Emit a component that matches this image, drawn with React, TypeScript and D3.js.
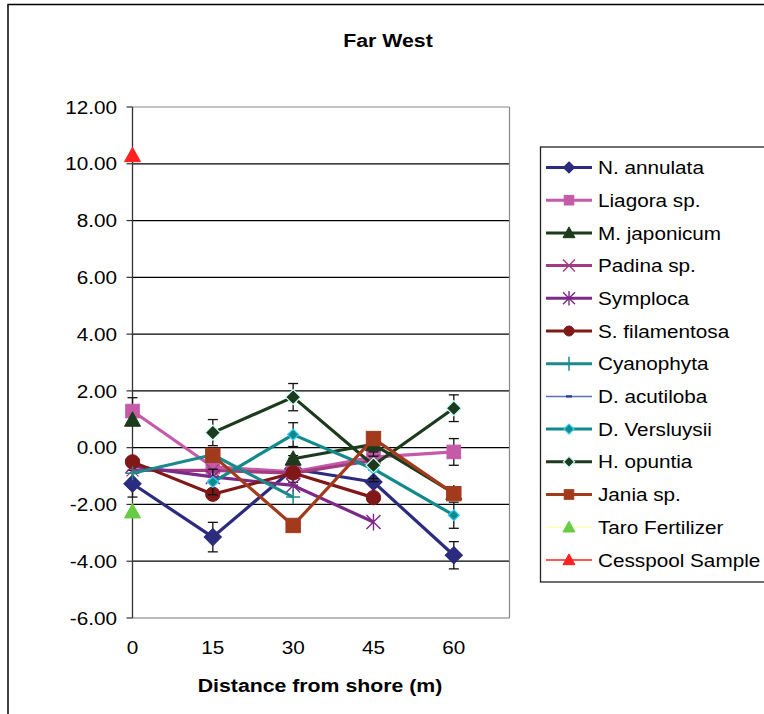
import React from 'react';
import * as d3 from 'd3';

// ---------- data ----------
const distances = [0, 15, 30, 45, 60];
const yTicks = [12, 10, 8, 6, 4, 2, 0, -2, -4, -6];
const chartTitle = 'Far West';
const xTitle = 'Distance from shore (m)';

const seriesNames = [
  'N. annulata', 'Liagora sp.', 'M. japonicum', 'Padina sp.', 'Symploca',
  'S. filamentosa', 'Cyanophyta', 'D. acutiloba', 'D. Versluysii', 'H. opuntia',
  'Jania sp.', 'Taro Fertilizer', 'Cesspool Sample',
];

const nAnnulata = [-1.27, -3.15, -0.75, -1.21, -3.79];
const liagora = [1.29, -0.68, -0.85, -0.33, -0.15];
const mJaponicum = [0.98, null, -0.39, 0.12, -1.6];
const padina = [-0.8, -0.8, -0.9, -0.45, null];
const symploca = [-0.65, -1.03, -1.33, -2.62, null];
const sFilamentosa = [-0.5, -1.64, -0.89, -1.76, null];
const cyanophyta = [-0.9, -0.25, -1.74, null, null];
const dAcutiloba = [null, null, null, null, null];
const dVersluysii = [null, -1.21, 0.46, -0.75, -2.38];
const hOpuntia = [null, 0.53, 1.78, -0.62, 1.39];
const jania = [null, -0.27, -2.74, 0.32, -1.62];
const taroFertilizer = [-2.25, null, null, null, null];
const cesspool = [10.3, null, null, null, null];

const nAnnulataErr = [0.47, 0.52, 0.47, 0.47, 0.48];
const liagoraErr = [0.47, 0.47, 0.47, 0.47, 0.47];
const dVersluysiiErr = [0.45, 0.45, 0.42, 0.45, 0.46];
const hOpuntiaErr = [0.47, 0.46, 0.48, 0.47, 0.47];

type V = number | null;
interface S {
  name: string; values: V[]; err?: number[];
  color: string; width: number; marker: string; mFill: string; mStroke: string;
  mSize: number; lSize: number;
}

const series: S[] = [
  { name: seriesNames[0], values: nAnnulata, err: nAnnulataErr, color: '#2c2c7e', width: 3.2, marker: 'diamond', mFill: '#2c2c7e', mStroke: '#2c2c7e', mSize: 8.5, lSize: 5.5 },
  { name: seriesNames[1], values: liagora, err: liagoraErr, color: '#c55aa9', width: 3.2, marker: 'square', mFill: '#c55aa9', mStroke: '#c55aa9', mSize: 6.8, lSize: 4.8 },
  { name: seriesNames[2], values: mJaponicum, color: '#1c3a1c', width: 3.2, marker: 'triangle', mFill: '#1c3a1c', mStroke: '#1c3a1c', mSize: 8, lSize: 6 },
  { name: seriesNames[3], values: padina, color: '#a23c82', width: 3.2, marker: 'x', mFill: 'none', mStroke: '#a23c82', mSize: 6, lSize: 6 },
  { name: seriesNames[4], values: symploca, color: '#7c2a88', width: 3.2, marker: 'star', mFill: 'none', mStroke: '#7c2a88', mSize: 7, lSize: 6 },
  { name: seriesNames[5], values: sFilamentosa, color: '#801818', width: 3.2, marker: 'circle', mFill: '#801818', mStroke: '#801818', mSize: 7.2, lSize: 5 },
  { name: seriesNames[6], values: cyanophyta, color: '#1a8a8a', width: 3.2, marker: 'plus', mFill: 'none', mStroke: '#1a8a8a', mSize: 7, lSize: 7 },
  { name: seriesNames[7], values: dAcutiloba, color: '#5a70c0', width: 1.5, marker: 'dash', mFill: '#3040a0', mStroke: '#3040a0', mSize: 3, lSize: 3 },
  { name: seriesNames[8], values: dVersluysii, err: dVersluysiiErr, color: '#128a8a', width: 3.2, marker: 'diamond', mFill: '#128a8a', mStroke: '#33ccff', mSize: 5.5, lSize: 5 },
  { name: seriesNames[9], values: hOpuntia, err: hOpuntiaErr, color: '#1c3a1c', width: 3.2, marker: 'diamond', mFill: '#1c3a1c', mStroke: '#ccffff', mSize: 7.5, lSize: 5.5 },
  { name: seriesNames[10], values: jania, color: '#a23a1c', width: 3.2, marker: 'square', mFill: '#a23a1c', mStroke: '#a23a1c', mSize: 7.2, lSize: 4.8 },
  { name: seriesNames[11], values: taroFertilizer, color: '#ffffb8', width: 1.5, marker: 'triangle', mFill: '#66cc44', mStroke: '#66cc44', mSize: 8, lSize: 6 },
  { name: seriesNames[12], values: cesspool, color: '#ff2020', width: 1.5, marker: 'triangle', mFill: '#ff2020', mStroke: '#ff2020', mSize: 8, lSize: 6 },
];

// ---------- layout ----------
const W = 764, H = 714;
const PL = 132.5, PR = 509.5, PT = 107, PB = 618;
const SX = 1.12;
const FONT = '"Liberation Sans", Arial, sans-serif';

const x = d3.scaleLinear().domain([0, 70.4]).range([PL, PR]);
const y = d3.scaleLinear().domain([-6, 12]).range([PB, PT]);

function Marker({ type, cx, cy, s, fill, stroke }: { type: string; cx: number; cy: number; s: number; fill: string; stroke: string }) {
  switch (type) {
    case 'diamond':
      return <path d={`M${cx},${cy - s}L${cx + s},${cy}L${cx},${cy + s}L${cx - s},${cy}Z`} fill={fill} stroke={stroke} strokeWidth={1.2} />;
    case 'square':
      return <rect x={cx - s} y={cy - s} width={2 * s} height={2 * s} fill={fill} stroke={stroke} strokeWidth={1} />;
    case 'triangle':
      return <path d={`M${cx},${cy - s}L${cx + s},${cy + s * 0.8}L${cx - s},${cy + s * 0.8}Z`} fill={fill} stroke={stroke} strokeWidth={1} />;
    case 'circle':
      return <circle cx={cx} cy={cy} r={s} fill={fill} stroke={stroke} strokeWidth={1} />;
    case 'x':
      return <path d={`M${cx - s},${cy - s}L${cx + s},${cy + s}M${cx - s},${cy + s}L${cx + s},${cy - s}`} stroke={stroke} strokeWidth={1.4} fill="none" />;
    case 'star':
      return <path d={`M${cx - s},${cy - s}L${cx + s},${cy + s}M${cx - s},${cy + s}L${cx + s},${cy - s}M${cx},${cy - s * 1.2}L${cx},${cy + s * 1.2}`} stroke={stroke} strokeWidth={1.4} fill="none" />;
    case 'plus':
      return <path d={`M${cx - s},${cy}L${cx + s},${cy}M${cx},${cy - s}L${cx},${cy + s}`} stroke={stroke} strokeWidth={1.5} fill="none" />;
    case 'dash':
      return <rect x={cx - s} y={cy - 1.2} width={2 * s} height={2.4} fill={fill} />;
    default:
      return null;
  }
}

function SText({ x: tx, y: ty, anchor = 'start', bold = false, size = 18.5, children }: any) {
  return (
    <g transform={`translate(${tx},${ty}) scale(${SX},1)`}>
      <text x={0} y={0} dy="0.36em" textAnchor={anchor} fontFamily={FONT} fontSize={size} fontWeight={bold ? 'bold' : 'normal'} fill="#000">
        {children}
      </text>
    </g>
  );
}

export default function App() {
  const line = d3.line<[number, V]>()
    .defined((d) => d[1] !== null)
    .x((d) => x(d[0]))
    .y((d) => y(d[1] as number));

  const legendX = 540.5, legendY = 147, legendW = 240, legendH = 435;
  const legendRow0 = 167.5, legendStep = 32.7;

  return (
    <svg width={W} height={H} style={{ position: 'absolute', left: 0, top: 0, background: '#fff' }}>
      <rect x={0} y={0} width={W} height={H} fill="#fff" />
      <rect x={8} y={4.5} width={W + 20} height={H + 20} fill="none" stroke="#000" strokeWidth={1.5} />

      {/* title */}
      <SText x={388} y={40} anchor="middle" bold size={19}>{chartTitle}</SText>

      {/* gridlines */}
      {yTicks.map((t) => (
        <line key={'g' + t} x1={PL} x2={PR} y1={y(t)} y2={y(t)} stroke={t === 12 ? '#888' : t === -6 ? '#777' : '#000'} strokeWidth={1.2} />
      ))}
      <line x1={PR} x2={PR} y1={PT} y2={PB} stroke="#888" strokeWidth={1.2} />
      <line x1={PL} x2={PL} y1={PT} y2={PB} stroke="#333" strokeWidth={1.3} />
      {yTicks.map((t) => (
        <g key={'t' + t}>
          <line x1={PL - 6} x2={PL} y1={y(t)} y2={y(t)} stroke="#333" strokeWidth={1.2} />
          <SText x={117} y={y(t)} anchor="end">{t.toFixed(2)}</SText>
        </g>
      ))}
      {distances.map((d) => (
        <SText key={'x' + d} x={x(d)} y={647} anchor="middle">{String(d)}</SText>
      ))}
      <SText x={320} y={685} anchor="middle" bold size={19}>{xTitle}</SText>

      {/* series */}
      {series.map((s) => {
        const pts: [number, V][] = distances.map((d, i) => [d, s.values[i]]);
        return (
          <g key={s.name}>
            <path d={line(pts) || ''} fill="none" stroke={s.color} strokeWidth={s.width} strokeLinejoin="round" />
            {s.err && pts.map(([d, v], i) => v === null ? null : (
              <g key={'e' + i} stroke="#111" strokeWidth={1.3}>
                <line x1={x(d)} x2={x(d)} y1={y(v + s.err![i])} y2={y(v - s.err![i])} />
                <line x1={x(d) - 5} x2={x(d) + 5} y1={y(v + s.err![i])} y2={y(v + s.err![i])} />
                <line x1={x(d) - 5} x2={x(d) + 5} y1={y(v - s.err![i])} y2={y(v - s.err![i])} />
              </g>
            ))}
            {pts.map(([d, v], i) => v === null ? null : (
              <Marker key={i} type={s.marker} cx={x(d)} cy={y(v)} s={s.mSize} fill={s.mFill} stroke={s.mStroke} />
            ))}
          </g>
        );
      })}

      {/* legend */}
      <rect x={legendX} y={legendY} width={legendW} height={legendH} fill="#fff" stroke="#222" strokeWidth={1.3} />
      {series.map((s, i) => {
        const ly = legendRow0 + i * legendStep;
        return (
          <g key={'l' + s.name}>
            <line x1={546} x2={592} y1={ly} y2={ly} stroke={s.color} strokeWidth={s.width === 3.2 ? 3 : 1.5} />
            <Marker type={s.marker} cx={569} cy={ly} s={s.lSize} fill={s.mFill} stroke={s.mStroke} />
            <SText x={598} y={ly}>{s.name}</SText>
          </g>
        );
      })}
    </svg>
  );
}
